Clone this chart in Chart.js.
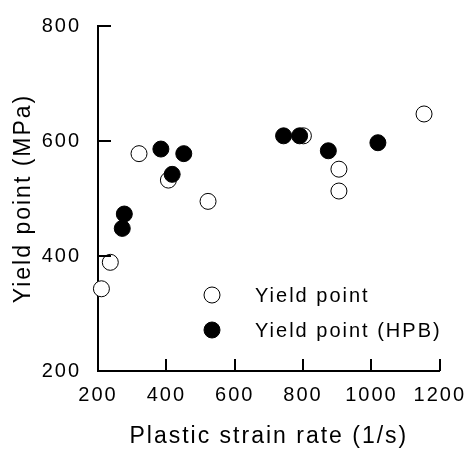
<!DOCTYPE html>
<html>
<head>
<meta charset="utf-8">
<script src="https://cdn.jsdelivr.net/npm/chart.js@4"></script>
<style>
  html, body { margin: 0; padding: 0; background: #ffffff; }
  #wrap { width: 470px; height: 450px; }
</style>
</head>
<body>
<div id="wrap"><canvas id="c" width="470" height="450"></canvas></div>
<script>
// ---- data ----
const seriesLabels = ['Yield point', 'Yield point (HPB)'];
const openRate  = [210, 236, 320, 406, 522, 801, 905, 905, 1154];
const openYield = [343, 389, 578, 532, 495, 609, 551, 513, 647];
const hpbRate   = [271, 277, 384, 417, 451, 743, 790, 874, 1019];
const hpbYield  = [448, 473, 586, 542, 578, 609, 609, 583, 597];
const xTicks = [200, 400, 600, 800, 1000, 1200];
const yTicks = [200, 400, 600, 800];
const xTitle = 'Plastic strain rate (1/s)';
const yTitle = 'Yield point (MPa)';

const FONT = "'Liberation Sans', Arial, sans-serif";
const SPACING = '2px';

function toPoints(xs, ys) { return xs.map((x, i) => ({ x: x, y: ys[i] })); }

const spacingPlugin = {
  id: 'spacing',
  beforeLayout(chart) { chart.ctx.letterSpacing = SPACING; },
  beforeDraw(chart) { chart.ctx.letterSpacing = SPACING; }
};

const inwardTicks = {
  id: 'inwardTicks',
  afterDatasetsDraw(chart) {
    const { ctx, chartArea, scales } = chart;
    ctx.save();
    ctx.strokeStyle = '#000';
    ctx.lineWidth = 2;
    ctx.beginPath();
    yTicks.forEach(v => {
      if (v === scales.y.min) return;
      const py = Math.round(scales.y.getPixelForValue(v));
      ctx.moveTo(chartArea.left, py);
      ctx.lineTo(chartArea.left + 13, py);
    });
    xTicks.forEach(v => {
      if (v === scales.x.min) return;
      const px = Math.round(scales.x.getPixelForValue(v));
      ctx.moveTo(px, chartArea.bottom);
      ctx.lineTo(px, chartArea.bottom - 12);
    });
    ctx.stroke();
    ctx.restore();
  }
};

const innerLegend = {
  id: 'innerLegend',
  afterDraw(chart) {
    const { ctx, chartArea } = chart;
    const x0 = chartArea.left + 114;
    const y0 = chartArea.top + 269;
    ctx.save();
    ctx.letterSpacing = SPACING;
    ctx.font = '20px ' + FONT;
    ctx.textBaseline = 'middle';
    ctx.textAlign = 'left';
    chart.data.datasets.forEach((ds, i) => {
      const cy = y0 + i * 35;
      ctx.beginPath();
      ctx.arc(x0, cy, ds.pointRadius, 0, Math.PI * 2);
      ctx.fillStyle = ds.backgroundColor;
      ctx.fill();
      ctx.lineWidth = ds.borderWidth;
      ctx.strokeStyle = ds.borderColor;
      ctx.stroke();
      ctx.fillStyle = '#000';
      ctx.fillText(ds.label, x0 + 43, cy + 1);
    });
    ctx.restore();
  }
};

new Chart(document.getElementById('c'), {
  type: 'scatter',
  data: {
    datasets: [
      {
        label: seriesLabels[0],
        data: toPoints(openRate, openYield),
        pointRadius: 8,
        pointHoverRadius: 8,
        backgroundColor: '#ffffff',
        borderColor: '#000000',
        borderWidth: 1,
        order: 2,
        clip: false
      },
      {
        label: seriesLabels[1],
        data: toPoints(hpbRate, hpbYield),
        pointRadius: 8,
        pointHoverRadius: 8,
        backgroundColor: '#000000',
        borderColor: '#000000',
        borderWidth: 1,
        order: 1,
        clip: false
      }
    ]
  },
  options: {
    responsive: false,
    animation: false,
    devicePixelRatio: 1,
    layout: { padding: { left: 0, right: 27, top: 26, bottom: 0 } },
    plugins: { legend: { display: false }, tooltip: { enabled: false } },
    scales: {
      x: {
        type: 'linear',
        min: xTicks[0],
        max: xTicks[xTicks.length - 1],
        afterBuildTicks(scale) { scale.ticks = xTicks.map(v => ({ value: v })); },
        afterFit(scale) { scale.height = 79; },
        grid: { display: false },
        border: { display: true, color: '#000', width: 2 },
        ticks: { color: '#000', font: { family: FONT, size: 20 }, padding: 4, maxRotation: 0, autoSkip: false,
                 callback: v => String(v) },
        title: { display: true, text: xTitle, color: '#000', font: { family: FONT, size: 23 }, padding: { top: 0, bottom: 0 } }
      },
      y: {
        type: 'linear',
        min: yTicks[0],
        max: yTicks[yTicks.length - 1],
        afterBuildTicks(scale) { scale.ticks = yTicks.map(v => ({ value: v })); },
        afterFit(scale) { scale.width = 98; },
        grid: { display: false },
        border: { display: true, color: '#000', width: 2 },
        ticks: { color: '#000', font: { family: FONT, size: 20 }, padding: 9, autoSkip: false,
                 callback: v => String(v) },
        title: { display: true, text: yTitle, color: '#000', font: { family: FONT, size: 23 }, padding: { top: 10, bottom: 0 } }
      }
    }
  },
  plugins: [spacingPlugin, inwardTicks, innerLegend]
});
</script>
</body>
</html>
